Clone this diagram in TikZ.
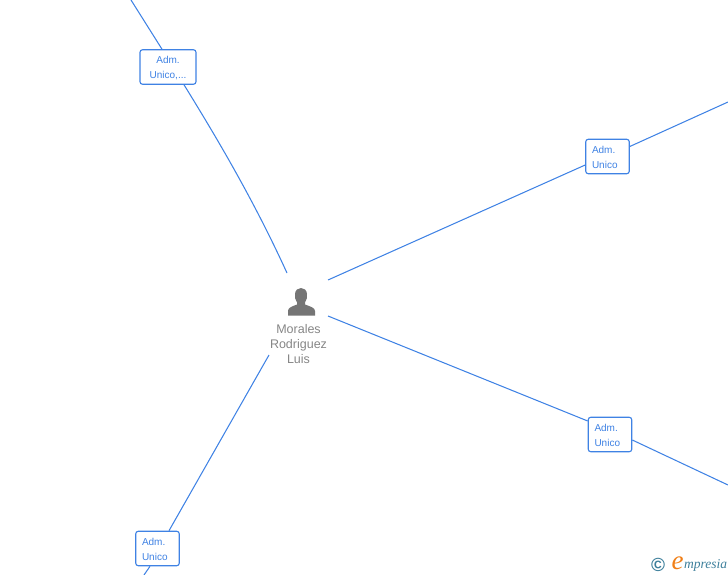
\documentclass[tikz,border=0pt]{standalone}
\usepackage{fontspec}
\setmainfont{Liberation Sans}
\newfontfamily\logofont{Liberation Serif}
\usetikzlibrary{positioning}
\definecolor{linkblue}{HTML}{3F82E4}
\definecolor{persongray}{HTML}{757575}
\definecolor{nametext}{HTML}{868686}
\definecolor{logoteal}{HTML}{3D7F9B}
\definecolor{logoorange}{HTML}{F07F17}

\begin{document}
\begin{tikzpicture}[
          x=1pt, y=-1pt,
          box/.style={rectangle, draw=linkblue, fill=white, line width=1.1pt,
                      rounded corners=2.5pt, minimum height=34.5pt, inner sep=0pt,
                      text=linkblue, font=\fontsize{10}{15}\selectfont,
                      text height=24pt, align=center},
          smallbox/.style={box, minimum width=43.5pt, text width=31pt,
                      text height=9pt, align=left},
          link/.style={draw=linkblue, line width=1.05pt},
          personname/.style={text=nametext, font=\fontsize{12.5}{15}\selectfont,
                       align=center, inner sep=0pt},
        ]
          \useasboundingbox (0,0) rectangle (728,575);

          \node[box, minimum width=56pt] (admtl) at (168,67)    {Adm.\\Unico,...};
          \node[smallbox] (admtr) at (607.5,156.5) {Adm.\\Unico};
          \node[smallbox] (admbr) at (610,434.5) {Adm.\\Unico};
          \node[smallbox] (admbl) at (157.5,548.5) {Adm.\\Unico};

          \node[personname] (luis) at (298.5,344) {Morales\\Rodriguez\\Luis};

          \coordinate (intl) at (287,273);
          \coordinate (intr) at (328,280);
          \coordinate (inbr) at (328,316);
          \coordinate (inbl) at (269,355);
          \coordinate (outtl) at (131,0);
          \coordinate (outtr) at (728,102);
          \coordinate (outbr) at (728,485);
          \coordinate (outbl) at (144,575);

          \draw[link] (outtl) -- ([xshift=-6pt]admtl.north);
          \draw[link] ([xshift=16pt]admtl.south) .. controls (220,143) and (255,203) .. (intl);
          \draw[link] (outtr) -- ([yshift=10pt]admtr.east);
          \draw[link] ([yshift=-8.5pt]admtr.west) -- (intr);
          \draw[link] (outbr) -- ([yshift=-5.5pt]admbr.east);
          \draw[link] ([yshift=13.5pt]admbr.west) -- (inbr);
          \draw[link] (inbl) -- ([xshift=11.5pt]admbl.north);
          \draw[link] ([xshift=-7.5pt]admbl.south) -- (outbl);

          \fill[persongray] (288,315.5) -- (288,311) .. controls (288,307.5) and (292,306.5) .. (297,304.5)
            -- (297,302.5) .. controls (295,300) and (294.8,297) .. (295,294)
            .. controls (295.3,290) and (298,288) .. (301,288)
            .. controls (304,288) and (306.7,290) .. (307,294)
            .. controls (307.2,297) and (307,300) .. (305,302.5)
            -- (305,304.5) .. controls (310,306.5) and (315,307.5) .. (315,311)
            -- (315,315.5) -- cycle;

          \node[inner sep=0pt, text=logoteal, font=\bfseries\fontsize{19}{19}\selectfont] (copy) at (658,564.5) {©};
          \node[inner sep=0pt, text=logoorange, font=\logofont\itshape\fontsize{27}{27}\selectfont] (logoe) at (677.5,563) {e};
          \node[inner sep=0pt, text=logoteal, font=\logofont\itshape\fontsize{13.5}{13.5}\selectfont, anchor=base west] (logo) at (684,568) {mpresia};
        \end{tikzpicture}
\end{document}
